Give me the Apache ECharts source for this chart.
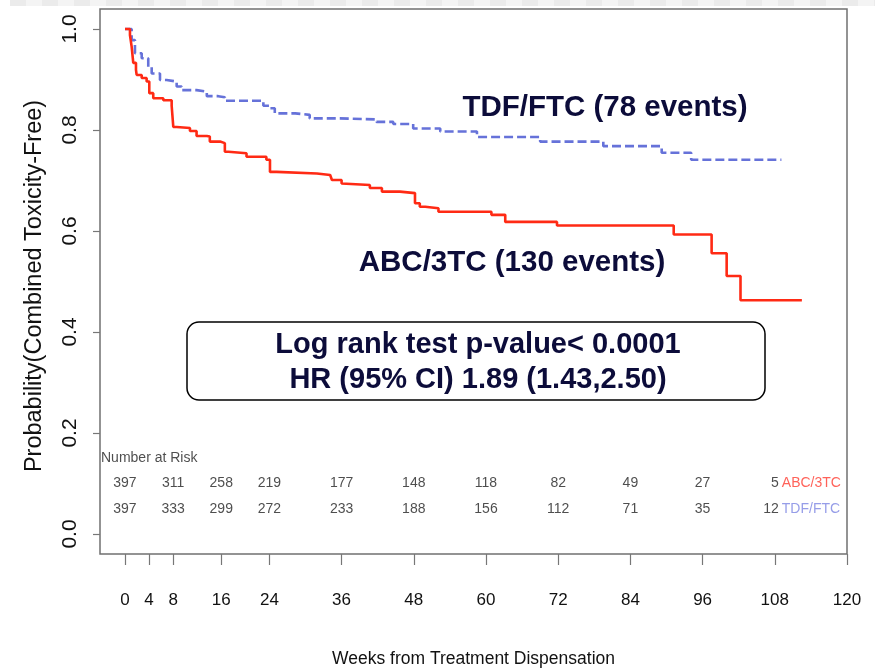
<!DOCTYPE html>
<html>
<head>
<meta charset="utf-8">
<script src="https://cdn.jsdelivr.net/npm/echarts@6/dist/echarts.min.js"></script>
<style>
html,body{margin:0;padding:0;background:#fff;}
#chart{width:875px;height:668px;}
</style>
</head>
<body>
<div id="chart"></div>
<script>
// ---- data ----
const weeksABC = [0, 0.83, 1.11, 1.38, 1.83, 1.94, 2.78, 3.6, 4.04, 4.7, 6.37, 7.76, 8.03, 8.59, 10.8, 11.9, 13.6, 14.1, 15.8, 16.6, 17.2, 20.2, 23.5, 24.1, 25.2, 31.9, 34.1, 34.4, 36.0, 36.3, 40.7, 42.7, 45.7, 48.2, 49.0, 49.9, 52.1, 60.9, 63.2, 71.8, 91.2, 97.5, 100.0, 102.3, 112.5];
const survABC  = [1.0, 0.988, 0.965, 0.933, 0.919, 0.909, 0.903, 0.896, 0.873, 0.863, 0.859, 0.848, 0.806, 0.804, 0.798, 0.788, 0.787, 0.777, 0.774, 0.757, 0.754, 0.747, 0.741, 0.717, 0.714, 0.711, 0.709, 0.701, 0.694, 0.691, 0.685, 0.678, 0.675, 0.655, 0.648, 0.645, 0.638, 0.632, 0.618, 0.611, 0.593, 0.556, 0.511, 0.463, 0.463];
const weeksTDF = [0, 1.11, 1.66, 2.78, 3.87, 4.44, 5.82, 6.93, 8.59, 9.42, 11.9, 13.6, 15.5, 16.6, 23.0, 24.1, 24.9, 28.3, 30.7, 35.7, 41.8, 44.6, 47.9, 52.4, 58.5, 69.0, 79.5, 89.2, 94.1, 109.1];
const survTDF  = [1.0, 0.978, 0.952, 0.942, 0.925, 0.912, 0.899, 0.896, 0.886, 0.879, 0.876, 0.867, 0.865, 0.858, 0.848, 0.843, 0.833, 0.830, 0.823, 0.821, 0.816, 0.812, 0.803, 0.797, 0.786, 0.777, 0.768, 0.755, 0.741, 0.741];

const riskWeeks = [0, 8, 16, 24, 36, 48, 60, 72, 84, 96, 108];
const riskABC   = [397, 311, 258, 219, 177, 148, 118, 82, 49, 27, 5];
const riskTDF   = [397, 333, 299, 272, 233, 188, 156, 112, 71, 35, 12];
const groupNames = ['ABC/3TC', 'TDF/FTC'];

const xTicks = [0, 4, 8, 16, 24, 36, 48, 60, 72, 84, 96, 108, 120];
const yTicks = [0, 0.2, 0.4, 0.6, 0.8, 1.0];

const xTitle = 'Weeks from Treatment Dispensation';
const yTitle = 'Probability(Combined Toxicity-Free)';
const riskTitle = 'Number at Risk';
const noteTDF = 'TDF/FTC (78 events)';
const noteABC = 'ABC/3TC (130 events)';
const boxLine1 = 'Log rank test p-value< 0.0001';
const boxLine2 = 'HR (95% CI) 1.89 (1.43,2.50)';

// ---- styles ----
const RED = '#ff2a14';
const BLUE = '#6672d9';
const SANS = '"Liberation Sans", Arial, Helvetica, sans-serif';
const NAVY = '#0c0c3a';

const zip = (a, b) => a.map((v, i) => [v, b[i]]);

const xMin = -4.15, xMax = 120;
const yMin = -0.0396, yMax = 1.0396;
const ROW_TITLE = 0.15, ROW_ABC = 0.10, ROW_TDF = 0.05;

function riskRow(counts, rowY, name, color) {
  const out = counts.map((n, i) => {
    const last = i === counts.length - 1;
    const item = { value: [riskWeeks[i], rowY, String(n)] };
    if (last) item.label = { align: 'right', offset: [4, 0] };
    return item;
  });
  out.push({ value: [riskWeeks[riskWeeks.length - 1], rowY, name], label: { align: 'left', offset: [7, 0], color: color } });
  return out;
}

const riskData = [{ value: [xMin, ROW_TITLE, riskTitle], label: { align: 'left', offset: [1, 0] } }]
  .concat(riskRow(riskABC, ROW_ABC, groupNames[0], '#ff3b2f'))
  .concat(riskRow(riskTDF, ROW_TDF, groupNames[1], '#7c84e2'));

// top decorative stripe
const stripe = [];
for (let x = 10; x < 875; x += 32) {
  stripe.push({ type: 'rect', shape: { x: x, y: 0, width: 16, height: 6 }, style: { fill: '#ebebeb' }, silent: true });
  stripe.push({ type: 'rect', shape: { x: x + 16, y: 0, width: 16, height: 6 }, style: { fill: '#f4f4f4' }, silent: true });
}

const chart = echarts.init(document.getElementById('chart'), null, { renderer: 'canvas' });
chart.setOption({
  animation: false,
  backgroundColor: '#ffffff',
  grid: { left: 100, right: 28, top: 9, bottom: 114, outerBoundsMode: 'none', containLabel: false,
    show: true, borderColor: '#707070', borderWidth: 1.5, backgroundColor: 'transparent' },
  xAxis: {
    type: 'value', min: xMin, max: xMax,
    name: xTitle, nameLocation: 'middle', nameGap: 96,
    nameTextStyle: { fontFamily: SANS, fontSize: 17.5, color: '#111' },
    axisLine: { show: false, onZero: false },
    splitLine: { show: false },
    axisTick: { show: true, customValues: xTicks, length: 11, lineStyle: { color: '#777', width: 1.2 } },
    axisLabel: { customValues: xTicks, margin: 38, fontFamily: SANS, fontSize: 17, color: '#111' }
  },
  yAxis: {
    type: 'value', min: yMin, max: yMax,
    name: yTitle, nameLocation: 'middle', nameGap: 53, nameRotate: 90,
    nameTextStyle: { fontFamily: SANS, fontSize: 23.5, color: '#111', padding: [0, 9, 0, 0] },
    axisLine: { show: false, onZero: false },
    splitLine: { show: false },
    axisTick: { show: true, customValues: yTicks, length: 7, lineStyle: { color: '#777', width: 1.2 } },
    axisLabel: { customValues: yTicks, rotate: 90, margin: 19, fontFamily: SANS, fontSize: 21, color: '#111',
      formatter: v => v.toFixed(1) }
  },
  series: [
    {
      name: groupNames[0], type: 'line', step: 'end', showSymbol: false, z: 5,
      lineStyle: { color: RED, width: 2.6 },
      data: zip(weeksABC, survABC)
    },
    {
      name: groupNames[1], type: 'line', step: 'end', showSymbol: false, z: 4,
      lineStyle: { color: BLUE, width: 2.6, type: [9, 4] },
      data: zip(weeksTDF, survTDF)
    },
    {
      type: 'scatter', symbolSize: 0, z: 6, silent: true, clip: false,
      label: { show: true, position: 'inside', fontFamily: SANS, fontSize: 14, color: '#222',
        formatter: p => p.value[2] },
      data: riskData
    }
  ],
  graphic: stripe.concat([
    { type: 'text', x: 605, y: 108, style: { text: noteTDF, fill: NAVY, font: 'bold 29.5px ' + SANS, textAlign: 'center', textVerticalAlign: 'middle' }, z: 10 },
    { type: 'text', x: 512, y: 263, style: { text: noteABC, fill: NAVY, font: 'bold 29.5px ' + SANS, textAlign: 'center', textVerticalAlign: 'middle' }, z: 10 },
    { type: 'rect', shape: { x: 187, y: 322, width: 578, height: 78, r: 12 }, style: { fill: '#fff', stroke: '#000', lineWidth: 1.5 }, z: 10 },
    { type: 'text', x: 478, y: 345, style: { text: boxLine1, fill: NAVY, font: 'bold 29px ' + SANS, textAlign: 'center', textVerticalAlign: 'middle' }, z: 11 },
    { type: 'text', x: 478, y: 380, style: { text: boxLine2, fill: NAVY, font: 'bold 29px ' + SANS, textAlign: 'center', textVerticalAlign: 'middle' }, z: 11 }
  ])
});
</script>
</body>
</html>
